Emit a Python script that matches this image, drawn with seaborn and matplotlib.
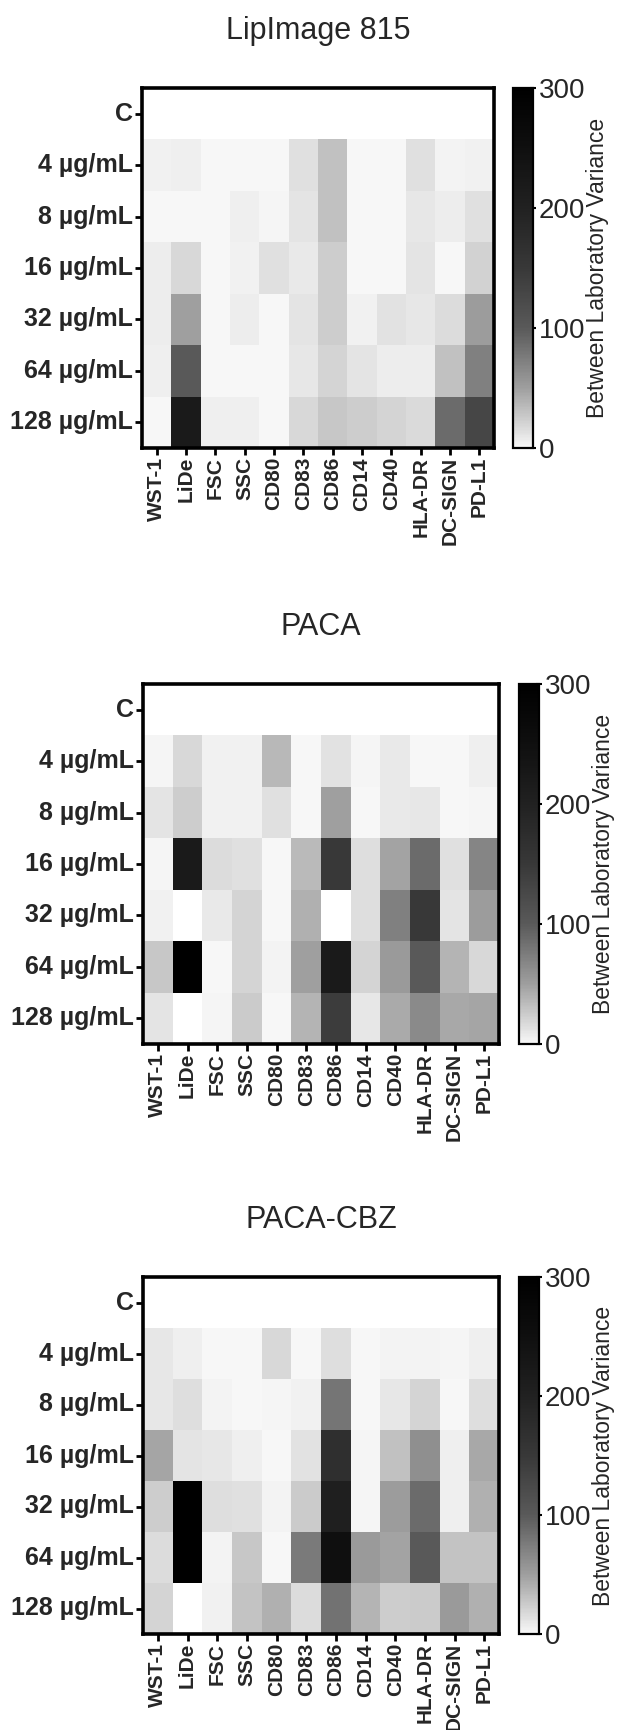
import numpy as np
import pandas as pd
import matplotlib
matplotlib.use("Agg")
import matplotlib.pyplot as plt
import seaborn as sns
from matplotlib.colors import LinearSegmentedColormap

sns.set_theme(style="white")
plt.rcParams["font.family"] = ["Liberation Sans", "DejaVu Sans"]

nan = np.nan

markers = ["WST-1", "LiDe", "FSC", "SSC", "CD80", "CD83", "CD86",
           "CD14", "CD40", "HLA-DR", "DC-SIGN", "PD-L1"]
concentrations = ["C", "4 µg/mL", "8 µg/mL", "16 µg/mL",
                  "32 µg/mL", "64 µg/mL", "128 µg/mL"]
colorbar_ticks = [0, 100, 200, 300]

lipimage_815 = [
    [nan] * 12,
    [4, 5, 0, 1, 0, 14, 31, 1, 0, 14, 3, 4],
    [1, 1, 1, 5, 2, 11, 31, 0, 0, 10, 6, 14],
    [6, 18, 1, 4, 13, 9, 24, 1, 0, 11, 0, 22],
    [6, 50, 0, 6, 0, 11, 24, 4, 12, 10, 16, 52],
    [5, 100, 0, 1, 1, 10, 21, 11, 7, 7, 31, 72],
    [1, 220, 5, 5, 1, 18, 27, 24, 21, 17, 87, 130],
]

paca = [
    [nan] * 12,
    [2, 18, 4, 4, 36, 0, 12, 2, 9, 0, 1, 5],
    [11, 24, 4, 4, 14, 0, 50, 0, 9, 10, 0, 2],
    [2, 220, 16, 14, 0, 34, 150, 15, 48, 87, 14, 68],
    [4, nan, 9, 20, 0, 40, nan, 15, 72, 150, 11, 52],
    [28, 310, 1, 20, 3, 50, 220, 20, 53, 100, 38, 18],
    [11, nan, 2, 25, 0, 38, 145, 10, 44, 65, 45, 46],
]

paca_cbz = [
    [nan] * 12,
    [10, 5, 1, 0, 18, 1, 15, 1, 3, 3, 2, 5],
    [10, 15, 3, 1, 2, 4, 80, 0, 10, 21, 1, 15],
    [46, 11, 10, 5, 0, 12, 170, 2, 31, 62, 5, 45],
    [24, 310, 15, 14, 3, 25, 205, 2, 52, 87, 5, 40],
    [16, 310, 3, 28, 0, 77, 250, 53, 48, 100, 30, 30],
    [20, nan, 4, 30, 40, 16, 83, 38, 24, 25, 53, 40],
]

panels = [
    ("LipImage 815", lipimage_815),
    ("PACA", paca),
    ("PACA-CBZ", paca_cbz),
]

cmap = LinearSegmentedColormap.from_list(
    "lab_var",
    [(0.0, (0.97, 0.97, 0.97)),
     (1 / 6, (0.62, 0.62, 0.62)),
     (1 / 3, (0.35, 0.35, 0.35)),
     (1 / 2, (0.22, 0.22, 0.22)),
     (2 / 3, (0.13, 0.13, 0.13)),
     (5 / 6, (0.06, 0.06, 0.06)),
     (1.0, (0.0, 0.0, 0.0))],
)

W, H = 618, 1730
fig = plt.figure(figsize=(W / 100, H / 100), dpi=100)
fig.patch.set_facecolor("white")

# pixel boxes: (left, top, right, bottom) for heatmap, colorbar
layout = [
    ((142, 88, 494, 448), (513, 88, 533, 448)),
    ((143, 684, 499, 1044), (519, 684, 539, 1044)),
    ((143, 1277, 499, 1634), (519, 1277, 539, 1634)),
]


def frac(box):
    l, t, r, b = box
    return [l / W, (H - b) / H, (r - l) / W, (b - t) / H]


for (title, values), (hbox, cbox) in zip(panels, layout):
    ax = fig.add_axes(frac(hbox))
    cax = fig.add_axes(frac(cbox))
    df = pd.DataFrame(values, index=concentrations, columns=markers)
    sns.heatmap(df, ax=ax, cbar_ax=cax, cmap=cmap, vmin=0, vmax=300,
                linewidths=0)
    ax.set_facecolor("white")
    ax.set_title(title, fontsize=22, pad=35)
    for sp in ax.spines.values():
        sp.set_visible(True)
        sp.set_linewidth(2.6)
        sp.set_color("black")
    ax.tick_params(axis="both", which="major", length=5, width=2,
                   color="black", bottom=True, left=True, pad=1.5)
    ax.set_yticklabels(concentrations, rotation=0, fontsize=18,
                       fontweight="bold")
    ax.set_xticklabels(markers, rotation=90, fontsize=15,
                       fontweight="bold")
    ax.set_xlabel("")
    ax.set_ylabel("")

    cb = ax.collections[0].colorbar
    cb.set_ticks(colorbar_ticks)
    cb.outline.set_visible(True)
    cb.outline.set_linewidth(1.6)
    cb.outline.set_edgecolor("black")
    cb.ax.tick_params(labelsize=20, length=4, width=1.5, color="black",
                      direction="inout", pad=2)
    cb.set_label("Between Laboratory Variance", fontsize=16.5, labelpad=1)

fig.savefig("out.png", dpi=100, facecolor="white")
